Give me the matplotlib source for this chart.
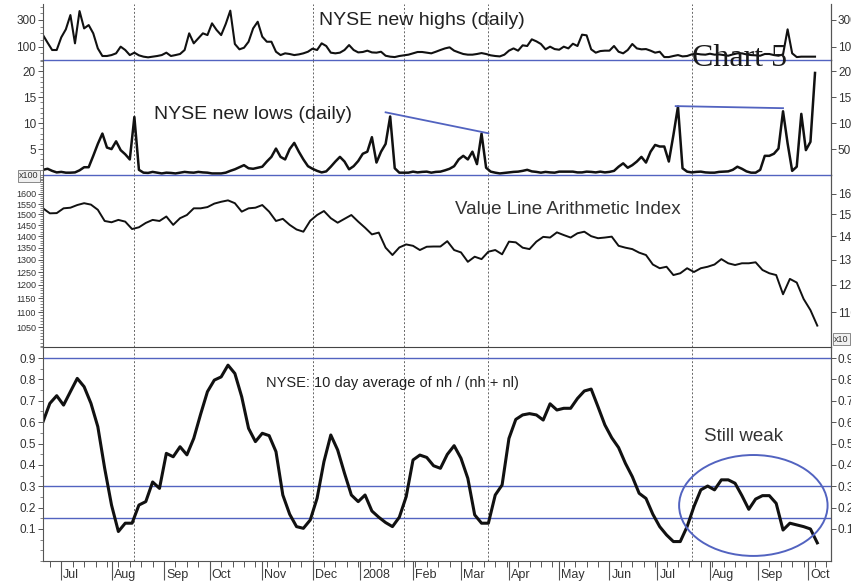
import numpy as np
import pandas as pd
import matplotlib
matplotlib.use('Agg')
import matplotlib.pyplot as plt
import matplotlib.transforms as mtransforms
from matplotlib.patches import Ellipse
from matplotlib.ticker import FixedLocator, MultipleLocator, NullFormatter, NullLocator

plt.rcParams['font.family'] = ['Liberation Sans', 'DejaVu Sans']

START = '2007-06-20'

# NYSE new highs, every 2nd trading day
highs = [187, 130, 75, 75, 170, 230, 337, 125, 367, 237,
         262, 200, 87, 30, 30, 37, 50, 100, 75, 37,
         55, 35, 25, 20, 25, 30, 37, 55, 30, 37,
         45, 75, 200, 125, 162, 200, 187, 275, 225, 187,
         270, 370, 120, 80, 92, 137, 237, 287, 175, 137,
         137, 62, 37, 50, 45, 37, 42, 50, 62,
         85, 75, 125, 105, 55, 50, 55, 75, 112, 75,
         57, 60, 70, 57, 55, 62, 32, 25, 22, 30,
         35, 40, 50, 60, 60, 55, 50, 62, 75, 87,
         95, 70, 57, 45, 40, 40, 45, 52, 45, 35,
         30, 27, 40, 70, 87, 70, 110, 105, 155, 140,
         120, 80, 100, 82, 77, 100, 87,
         122, 105, 190, 185, 80, 55, 67, 70, 70, 105,
         62, 50, 75, 120, 87, 80, 82, 70, 55, 62,
         22, 22, 30, 37, 27, 30, 42, 47, 42, 40,
         47, 40, 42, 37, 32, 42, 50, 50, 42, 37,
         35, 32, 45, 45, 37, 32, 42, 230, 50, 22,
         25, 25, 25, 25]

# NYSE new lows (x100), every 2nd trading day
lows = [1.0, 1.2, 0.8, 0.5, 0.6, 0.45, 0.45, 0.5, 0.9, 1.5,
        1.5, 3.7, 6.0, 8.0, 5.3, 5.0, 6.5, 4.8, 4.0, 3.0,
        11.2, 1.0, 0.45, 0.4, 0.6, 0.45, 0.3, 0.45, 0.4, 0.3,
        0.45, 0.6, 0.5, 0.45, 0.6, 0.5, 0.45, 0.3, 0.3, 0.3,
        0.45, 0.8, 1.1, 1.5, 1.9, 1.3, 1.2, 1.4, 1.6, 2.6,
        3.5, 5.1, 3.5, 3.0, 5.0, 6.2, 4.5, 3.0, 1.7,
        1.2, 0.8, 0.5, 0.7, 1.6, 2.6, 3.5, 2.6, 1.1, 1.7,
        2.7, 4.1, 4.5, 7.3, 2.4, 4.5, 6.0, 11.3, 1.3, 0.45,
        0.45, 0.45, 0.65, 0.5, 0.6, 0.65, 0.45, 0.6, 0.65, 0.9,
        1.2, 1.7, 3.0, 3.7, 3.0, 4.5, 2.1, 8.0, 1.4, 0.65,
        0.45, 0.3, 0.4, 0.5, 0.6, 0.65, 0.8, 1.0, 0.7, 0.6,
        0.45, 0.6, 0.5, 0.45, 0.65, 0.65, 0.65,
        0.65, 0.5, 0.5, 0.65, 0.6, 0.5, 0.65, 0.5, 0.6, 0.8,
        1.6, 2.25, 1.4, 1.9, 2.6, 3.5, 2.4, 4.5, 5.8, 5.5,
        5.5, 2.6, 7.7, 13.2, 1.3, 0.65, 0.5, 0.6, 0.65, 0.5,
        0.45, 0.45, 0.6, 0.65, 0.7, 1.0, 1.6, 1.2, 0.7, 0.45,
        0.45, 1.0, 3.7, 3.7, 4.1, 5.1, 12.3, 6.1, 0.8, 1.6,
        11.8, 4.8, 6.4, 19.7]

# Value Line Arithmetic Index, every 3rd trading day
value_line = [1529, 1505, 1506, 1529, 1532, 1545, 1554, 1547, 1522, 1469,
              1463, 1474, 1466, 1432, 1440, 1460, 1474, 1469, 1490, 1451,
              1482, 1497, 1529, 1529, 1535, 1552, 1561, 1568, 1554, 1513,
              1529, 1532, 1545, 1513, 1469, 1479, 1451, 1430, 1420, 1470,
              1497, 1516, 1482, 1461, 1479, 1497, 1466, 1438, 1408, 1416,
              1350, 1319, 1351, 1364, 1358, 1340, 1354, 1355, 1355, 1378,
              1340, 1330, 1291, 1312, 1302, 1333, 1340, 1322, 1376, 1373,
              1350, 1344, 1376, 1397, 1394, 1417, 1405,
              1394, 1413, 1420, 1400, 1391, 1394, 1398, 1358, 1350, 1344,
              1329, 1319, 1280, 1265, 1271, 1238, 1245, 1265, 1250, 1265,
              1271, 1280, 1302, 1285, 1278, 1285, 1285, 1289, 1258, 1245,
              1238, 1165, 1223, 1209, 1148, 1108, 1055]

# 10 day average of nh / (nh + nl), every 3rd trading day
hl_ratio = [0.602, 0.688, 0.724, 0.680, 0.743, 0.805, 0.766, 0.688, 0.579, 0.384,
            0.212, 0.088, 0.127, 0.127, 0.212, 0.228, 0.320, 0.290, 0.454, 0.438,
            0.485, 0.447, 0.524, 0.637, 0.743, 0.797, 0.812, 0.867, 0.828, 0.719,
            0.571, 0.509, 0.548, 0.537, 0.462, 0.259, 0.169, 0.111, 0.103, 0.142,
            0.244, 0.415, 0.540, 0.470, 0.361, 0.259, 0.228, 0.259, 0.184, 0.155,
            0.130, 0.111, 0.155, 0.251, 0.423, 0.446, 0.435, 0.396, 0.384, 0.449,
            0.490, 0.431, 0.337, 0.166, 0.127, 0.127, 0.259, 0.306, 0.524, 0.613,
            0.634, 0.640, 0.634, 0.610, 0.686, 0.657, 0.665,
            0.665, 0.711, 0.746, 0.755, 0.672, 0.587, 0.527, 0.481, 0.407, 0.345,
            0.267, 0.243, 0.169, 0.111, 0.072, 0.041, 0.041, 0.111, 0.205, 0.283,
            0.301, 0.283, 0.330, 0.330, 0.314, 0.256, 0.192, 0.240, 0.256, 0.256,
            0.220, 0.095, 0.127, 0.119, 0.111, 0.100, 0.035]

month_starts = ['2007-07-01', '2007-08-01', '2007-09-01', '2007-10-01', '2007-11-01',
                '2007-12-01', '2008-01-01', '2008-02-01', '2008-03-01', '2008-04-01',
                '2008-05-01', '2008-06-01', '2008-07-01', '2008-08-01', '2008-09-01',
                '2008-10-01']
month_labels = ['Jul', 'Aug', 'Sep', 'Oct', 'Nov', 'Dec', '2008', 'Feb', 'Mar',
                'Apr', 'May', 'Jun', 'Jul', 'Aug', 'Sep', 'Oct']
marker_dates = ['2007-08-15', '2007-12-03', '2008-01-28', '2008-03-19', '2008-07-22']

BLUE = '#5263c0'
GREY = '#555555'
TXT = '#333333'


def day_index(dates):
    d = np.array(pd.to_datetime(dates).values, dtype='datetime64[D]')
    return np.busday_count(np.datetime64(START), d)


highs_x = day_index(pd.bdate_range(START, periods=len(highs), freq='2B'))
lows_x = day_index(pd.bdate_range(START, periods=len(lows), freq='2B'))
vl_x = day_index(pd.bdate_range(START, periods=len(value_line), freq='3B'))
ratio_x = day_index(pd.bdate_range(START, periods=len(hl_ratio), freq='3B'))

first_days = np.busday_offset(np.array(month_starts, dtype='datetime64[D]'), 0, roll='forward')
month_x = np.busday_count(np.datetime64(START), first_days)
week_x = np.arange(3, 346, 5)
marker_x = day_index(marker_dates)

fig = plt.figure(figsize=(8.51, 5.86), dpi=100)
W, H = 851, 586
left, right = 43 / W, 831 / W


def panel(top_px, bot_px):
    ax = fig.add_axes([left, (H - bot_px) / H, right - left, (bot_px - top_px) / H])
    ax.patch.set_visible(False)
    return ax


ax1 = panel(4, 60)
ax2 = panel(60, 175)
ax3 = panel(175, 347)
ax4 = panel(347, 561)
axes = [ax1, ax2, ax3, ax4]

ax1.plot(highs_x, highs, color='#111111', lw=1.5)
ax2.plot(lows_x, lows, color='#111111', lw=1.8)
ax3.plot(vl_x, value_line, color='#111111', lw=1.4)
ax4.plot(ratio_x, hl_ratio, color='#111111', lw=2.2)

ax1.set_ylim(0, 420)
ax2.set_ylim(0, 22.2)
ax3.set_yscale('log')
ax3.set_ylim(986, 1699)
ax4.set_ylim(-0.05, 0.952)

# right hand duplicate scales
right_ticks = [
    ([100, 300], ['100', '300']),
    ([5, 10, 15, 20], ['50', '100', '150', '200']),
    ([1100, 1200, 1300, 1400, 1500, 1600], ['110', '120', '130', '140', '150', '160']),
    ([0.1, 0.2, 0.3, 0.4, 0.5, 0.6, 0.7, 0.8, 0.9],
     ['0.1', '0.2', '0.3', '0.4', '0.5', '0.6', '0.7', '0.8', '0.9']),
]

vl_ticks = list(range(1050, 1650, 50))

for i, ax in enumerate(axes):
    ax.set_xlim(0, 345)
    ax.spines['top'].set_visible(False)
    ax.spines['left'].set_color(GREY)
    ax.spines['right'].set_color(GREY)
    ax.tick_params(axis='y', direction='out', length=3.5, width=0.7, colors=GREY,
                   labelcolor=TXT, labelsize=8.5, pad=1.5)
    ax.tick_params(axis='y', which='minor', direction='out', length=2, width=0.5, colors=GREY)
    for m in marker_x:
        ax.axvline(m, color='#666666', lw=0.7, ls=(0, (2, 2)), zorder=0)
    twin = ax.twinx()
    twin.patch.set_visible(False)
    if i == 2:
        twin.set_yscale('log')
    twin.set_ylim(ax.get_ylim())
    twin.set_xlim(ax.get_xlim())
    for a in ['top', 'bottom', 'left']:
        twin.spines[a].set_visible(False)
    twin.spines['right'].set_color(GREY)
    twin.yaxis.set_major_locator(FixedLocator(right_ticks[i][0]))
    twin.set_yticklabels(right_ticks[i][1])
    twin.yaxis.set_minor_locator(NullLocator())
    twin.yaxis.set_minor_formatter(NullFormatter())
    twin.tick_params(axis='y', direction='out', length=3.5, width=0.7, colors=GREY,
                     labelcolor=TXT, labelsize=8.5, pad=1.5)

for ax in [ax1, ax2, ax3]:
    ax.set_xticks([])

ax1.yaxis.set_major_locator(FixedLocator([100, 300]))
ax1.yaxis.set_minor_locator(MultipleLocator(50))
ax2.yaxis.set_major_locator(FixedLocator([5, 10, 15, 20]))
ax2.yaxis.set_minor_locator(MultipleLocator(1))
ax3.yaxis.set_major_locator(FixedLocator(vl_ticks))
ax3.yaxis.set_major_formatter(plt.FuncFormatter(lambda v, p: f'{v:.0f}'))
ax3.yaxis.set_minor_locator(FixedLocator(list(range(990, 1700, 10))))
ax3.yaxis.set_minor_formatter(NullFormatter())
ax3.tick_params(axis='y', labelsize=6.5)
ax4.yaxis.set_major_locator(FixedLocator([0.1, 0.2, 0.3, 0.4, 0.5, 0.6, 0.7, 0.8, 0.9]))
ax4.yaxis.set_minor_locator(MultipleLocator(0.05))

# panel borders
ax1.spines['bottom'].set_color(BLUE)
ax2.spines['bottom'].set_color(BLUE)
ax1.spines['bottom'].set_linewidth(1.0)
ax2.spines['bottom'].set_linewidth(1.0)
ax3.spines['bottom'].set_color('#444444')
ax4.spines['bottom'].set_color(GREY)

for level in [0.9, 0.3, 0.15]:
    ax4.axhline(level, color=BLUE, lw=1.0, zorder=1)

# x axis with month ticks
ax4.xaxis.set_major_locator(FixedLocator(month_x))
ax4.xaxis.set_minor_locator(FixedLocator(week_x))
ax4.xaxis.set_major_formatter(NullFormatter())
ax4.tick_params(axis='x', which='major', direction='out', length=14, width=0.8, colors=GREY)
ax4.tick_params(axis='x', which='minor', direction='out', length=4.5, width=0.7, colors=GREY)
lbl_trans = mtransforms.offset_copy(ax4.get_xaxis_transform(), fig=fig, x=2, y=0, units='dots')
for mx, name in zip(month_x, month_labels):
    ax4.text(mx, -0.037, name, transform=lbl_trans, ha='left', va='top',
             fontsize=9, color=TXT)

# trend lines on new lows
tl1 = day_index(['2008-01-16', '2008-03-19'])
ax2.plot(tl1, [12.1, 8.05], color=BLUE, lw=1.3)
tl2 = day_index(['2008-07-11', '2008-09-16'])
ax2.plot(tl2, [13.3, 12.9], color=BLUE, lw=1.3)

# ellipse around the recent weak readings
cx = day_index(['2008-08-28'])[0]
ax4.add_patch(Ellipse((cx, 0.21), 65, 0.4725, fill=False, ec=BLUE, lw=1.4, zorder=3))

# labels
ax1.text(0.481, 0.714, 'NYSE new highs (daily)', transform=ax1.transAxes,
         ha='center', va='center', fontsize=14, color='#222222')
ax2.text(0.267, 0.530, 'NYSE new lows (daily)', transform=ax2.transAxes,
         ha='center', va='center', fontsize=14, color='#222222')
ax3.text(0.666, 0.797, 'Value Line Arithmetic Index', transform=ax3.transAxes,
         ha='center', va='center', fontsize=13.5, color=TXT)
ax4.text(0.4435, 0.832, 'NYSE: 10 day average of nh / (nh + nl)', transform=ax4.transAxes,
         ha='center', va='center', fontsize=10.5, color='#222222')
ax4.text(0.889, 0.584, 'Still weak', transform=ax4.transAxes,
         ha='center', va='center', fontsize=13.5, color=TXT)

fig.text(740 / W, (H - 58) / H, 'Chart 5', ha='center', va='center', fontsize=23,
         family='Liberation Serif', color='#1a1a1a')

box = dict(boxstyle='square,pad=0.15', fc='#f0f0f0', ec='#777777', lw=0.6)
fig.text(29 / W, (H - 176) / H, 'x100', ha='center', va='center', fontsize=6.5,
         color=TXT, bbox=box)
fig.text(834 / W, (H - 339) / H, 'x10', ha='left', va='center', fontsize=6.5,
         color=TXT, bbox=box)

fig.savefig('out.png', dpi=100)
